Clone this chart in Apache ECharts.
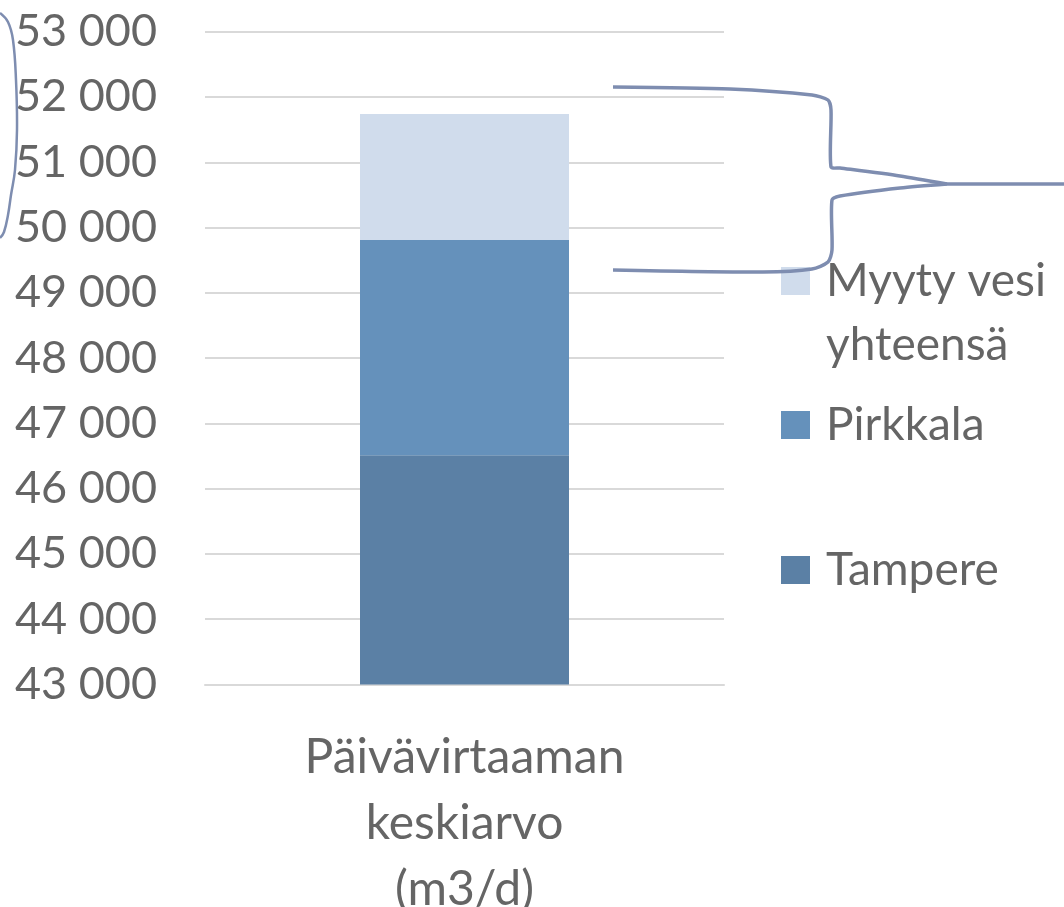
<!DOCTYPE html>
<html>
<head>
<meta charset="utf-8">
<script src="https://cdn.jsdelivr.net/npm/echarts@6/dist/echarts.min.js"></script>
<style>html,body{margin:0;padding:0;background:#fff}#c{width:1064px;height:907px}</style>
</head>
<body>
<div id="c"></div>
<script>
// ---- data ----
const categories = ['Päivävirtaaman\nkeskiarvo\n(m3/d)'];
const seriesNames = ['Tampere', 'Pirkkala', 'Myyty vesi yhteensä'];
const tampere = [46510];
const pirkkala = [3300];
const myytyVesi = [1930];
const yMin = 43000, yMax = 53000, yInterval = 1000;

const FONT = 'Lato';
const TXT = '#656565';
const colors = ['#5b80a5', '#6591bb', '#d0dcec'];
const fmt = v => String(v).replace(/\B(?=(\d{3})+(?!\d))/g, ' ');
const annot = '#7e8db0';

const chart = echarts.init(document.getElementById('c'), null, {renderer: 'canvas'});
const richA = {a: {fontFamily: FONT, fontSize: 46, color: TXT, lineHeight: 64, padding: [0, 0, 0, 11]}};
const legendBase = {
  orient: 'vertical', left: 781, padding: 0, itemWidth: 29, itemHeight: 28,
  icon: 'rect', selectedMode: false,
  textStyle: {fontFamily: FONT, fontSize: 46, color: TXT, lineHeight: 64, rich: richA}
};
chart.setOption({
  animation: false,
  color: colors,
  grid: {left: 205, right: 340, top: 31.7, bottom: 222.5, outerBoundsMode: 'none', containLabel: false},
  legend: [
    Object.assign({}, legendBase, {top: 185, data: ['Myyty vesi yhteensä'],
      formatter: () => '{a|}\n{a|Myyty vesi}\n{a|yhteensä}'}),
    Object.assign({}, legendBase, {top: 393, data: ['Pirkkala'], formatter: n => '{a|' + n + '}'}),
    Object.assign({}, legendBase, {top: 538, data: ['Tampere'], formatter: n => '{a|' + n + '}'})
  ],
  xAxis: {
    type: 'category', data: categories,
    axisLine: {show: true, lineStyle: {color: '#d9d9d9', width: 2}},
    axisTick: {show: false},
    axisLabel: {fontFamily: FONT, fontSize: 48, color: TXT, lineHeight: 66, margin: 40, interval: 0}
  },
  yAxis: {
    type: 'value', min: yMin, max: yMax, interval: yInterval,
    axisLine: {show: false}, axisTick: {show: false},
    splitLine: {lineStyle: {color: '#d9d9d9', width: 2}},
    axisLabel: {fontFamily: FONT, fontSize: 45, color: TXT, margin: 48, formatter: fmt}
  },
  series: [
    {name: seriesNames[0], type: 'bar', stack: 's', data: tampere, barWidth: 209, itemStyle: {color: colors[0]}},
    {name: seriesNames[1], type: 'bar', stack: 's', data: pirkkala, barWidth: 209, itemStyle: {color: colors[1]}},
    {name: seriesNames[2], type: 'bar', stack: 's', data: myytyVesi, barWidth: 209, itemStyle: {color: colors[2]}}
  ],
  graphic: [
    {type: 'polyline', z: 100, shape: {smooth: 0.4, points: [[0,13],[8,22],[13,40],[16,80],[17,130],[15,170],[11,195],[8,215],[4,232],[0,238]]},
      style: {stroke: annot, lineWidth: 2.5, fill: null}},
    {type: 'polyline', z: 100, shape: {smooth: 0.25, points: [[613,87],[730,89],[812,95],[828,100],[831,110],[831,167],[840,168],[900,176],[947,184]]},
      style: {stroke: annot, lineWidth: 3.5, fill: null}},
    {type: 'line', z: 100, shape: {x1: 947, y1: 184, x2: 1064, y2: 184}, style: {stroke: annot, lineWidth: 3.5}},
    {type: 'polyline', z: 100, shape: {smooth: 0.25, points: [[947,184],[900,188],[840,196],[832,200],[832,250],[828,262],[812,269],[763,272],[613,270]]},
      style: {stroke: annot, lineWidth: 3.5, fill: null}}
  ]
});
</script>
</body>
</html>
